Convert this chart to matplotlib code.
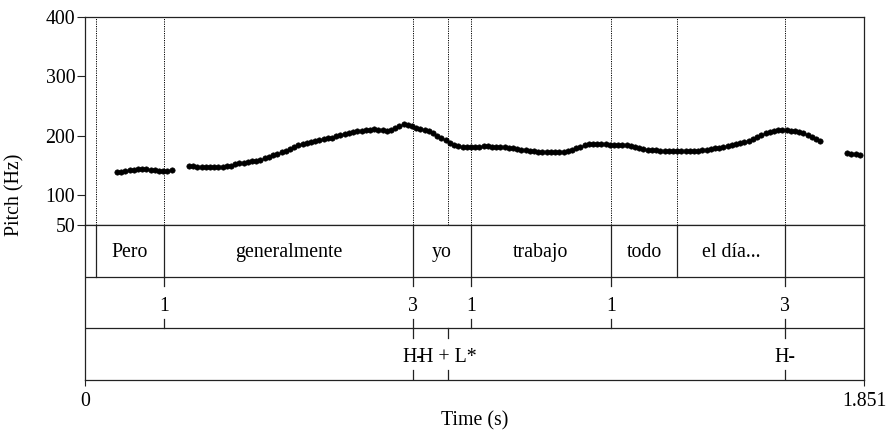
import numpy as np
import matplotlib
matplotlib.use("Agg")
import matplotlib.pyplot as plt

plt.rcParams['font.family'] = ['Liberation Serif', 'DejaVu Serif']

# pitch track (Hz), one value every 10 ms
step = 0.01
seg1_start = 0.076
seg1_hz = [139.5, 140, 141, 142, 143, 143.5, 144, 144, 143, 142, 141, 140.5, 141, 143]

seg2_start = 0.247
seg2_hz = [
    149, 148.5, 148, 148, 147.5, 147, 147, 147.5, 148, 148.5,
    150, 152, 153.5, 155, 156, 157, 158, 159.5, 162, 164.5,
    167, 170, 172, 175, 178, 181, 184, 186, 188, 189.5,
    191.5, 193, 194.5, 196, 197, 199, 201, 203, 205, 206.5,
    208, 209, 210, 210.5, 211, 210.5, 209.5, 209, 210, 213,
    216, 219.5, 219, 216, 214, 212, 210, 207.5, 204, 200.5,
    197, 193, 188, 185, 183, 182, 181.5, 181, 181.5, 182,
    182.5, 182.5, 182, 181.5, 181, 180.5, 180, 179, 178, 177,
    176, 175, 174, 173, 172.5, 172, 172, 172, 172.5, 173.5,
    175, 177, 179, 182, 184.5, 186, 186.5, 186.5, 186, 185.5,
    185, 185, 185, 184.5, 184, 183, 181.5, 180, 178.5, 177,
    176, 175.5, 175, 174.5, 174.5, 174.5, 174.5, 174.5, 174.5, 174.5,
    175, 175, 175.5, 176.5, 178, 179, 180, 181.5, 183, 184.5,
    186, 187.5, 189, 191, 194, 197.5, 201, 204, 206.5, 208.5,
    209.5, 210, 210, 209, 207.5, 206, 204, 201.5, 198.5, 195.5,
    192,
]

seg3_start = 1.811
seg3_hz = [171.5, 170, 169, 168]

t_end = 1.851
pitch_ticks = [50, 100, 200, 300, 400]

# tier 1: words (interval boundaries and labels)
word_bounds = [0, 0.026, 0.188, 0.779, 0.917, 1.250, 1.407, 1.663, 1.851]
word_labels = ["", "Pero", "generalmente", "yo", "trabajo", "todo", "el día...", ""]

# tier 2: break indices (points)
break_times = [0.188, 0.779, 0.917, 1.250, 1.663]
break_labels = ["1", "3", "1", "1", "3"]

# tier 3: tones (points)
tone_times = [0.779, 0.863, 1.663]
tone_labels = ["H-", "H + L*", "H-"]

W, H = 890, 434
fig = plt.figure(figsize=(W / 100, H / 100), dpi=100)
fs = 14.3
frame = dict(color='#222222', lw=0.9)

left, right = 85, 864
ax = fig.add_axes([left / W, 1 - 225 / H, (right - left) / W, (225 - 17) / H])
tx = fig.add_axes([left / W, 1 - 380 / H, (right - left) / W, (380 - 225) / H])

for start, vals in [(seg1_start, seg1_hz), (seg2_start, seg2_hz), (seg3_start, seg3_hz)]:
    tt = start + step * np.arange(len(vals))
    ax.plot(tt, vals, 'o', color='black', ms=3.9, mec='black', mew=0.4)

# dotted guide lines from every tier boundary / point
guides = sorted(set(word_bounds[1:-1] + break_times + tone_times))
for g in guides:
    ax.axvline(g, color='black', lw=0.7, ls=(0, (1.2, 1.2)))

ax.set_xlim(0, t_end)
ax.set_ylim(50, 400)
ax.set_xticks([])
ax.set_yticks(pitch_ticks)
ax.set_yticklabels([str(p) for p in pitch_ticks], fontsize=fs)
ax.tick_params(axis='y', direction='out', length=5.5, width=0.8, pad=1.5, color='#222222')
for s in ax.spines.values():
    s.set_color('#222222')
    s.set_linewidth(0.9)

# tiers
tx.set_xlim(0, t_end)
tx.set_ylim(0, 3)
tx.set_yticks([])
tx.set_xticks([0, t_end])
tx.set_xticklabels(["0", "1.851"], fontsize=fs)
tx.tick_params(axis='x', direction='out', length=4, width=0.8, pad=5, color='#222222')
for s in tx.spines.values():
    s.set_color('#222222')
    s.set_linewidth(0.9)
tx.axhline(1, **frame)
tx.axhline(2, **frame)

for b in word_bounds[1:-1]:
    tx.plot([b, b], [2, 3], **frame)
for a, b, lab in zip(word_bounds[:-1], word_bounds[1:], word_labels):
    if lab:
        tx.text((a + b) / 2, 2.46, lab, ha='center', va='center', fontsize=fs)

tick = 0.19
for tier_y, times, labels in [(1, break_times, break_labels), (0, tone_times, tone_labels)]:
    for t, lab in zip(times, labels):
        tx.plot([t, t], [tier_y + 1 - tick, tier_y + 1], **frame)
        tx.plot([t, t], [tier_y, tier_y + tick], **frame)
        tx.text(t, tier_y + 0.43, lab, ha='center', va='center', fontsize=fs)

fig.text(15 / W, 1 - 195 / H, "Pitch (Hz)", rotation=90, ha='center', va='center', fontsize=fs)
fig.text(474.5 / W, 1 - 421 / H, "Time (s)", ha='center', va='center', fontsize=fs)

fig.savefig("out.png", dpi=100)
